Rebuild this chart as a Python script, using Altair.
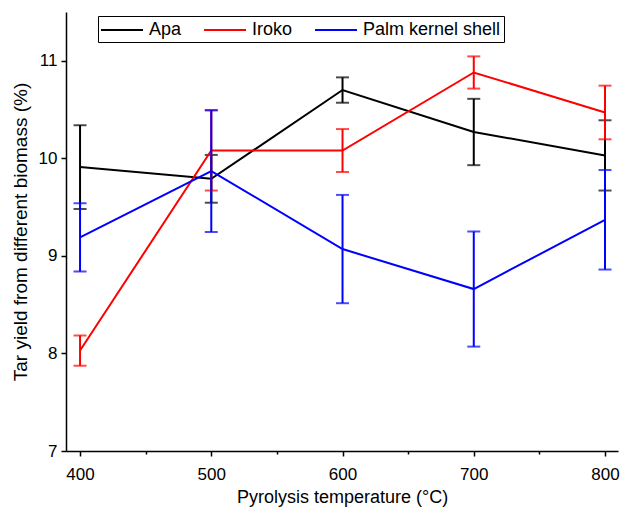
import altair as alt
import pandas as pd

# Pyrolysis temperatures (°C)
temps = [400, 500, 600, 700, 800]

# Tar yield (%) and error half-widths for each biomass
apa = [9.91, 9.79, 10.70, 10.27, 10.03]
apa_err = [0.43, 0.245, 0.13, 0.34, 0.36]
iroko = [8.03, 10.08, 10.08, 10.88, 10.47]
iroko_err = [0.155, 0.41, 0.22, 0.165, 0.275]
pks = [9.19, 9.87, 9.07, 8.66, 9.37]
pks_err = [0.35, 0.625, 0.555, 0.59, 0.51]

series = ["Apa", "Iroko", "Palm kernel shell"]
colors = ["#000000", "#ff0000", "#0000ff"]

x_ticks = [400, 450, 500, 550, 600, 650, 700, 750, 800]
y_ticks = [7, 7.5, 8, 8.5, 9, 9.5, 10, 10.5, 11, 11.5]

rows = []
for order, (name, vals, errs) in enumerate(zip(series, [apa, iroko, pks], [apa_err, iroko_err, pks_err])):
    for t, v, e in zip(temps, vals, errs):
        rows.append({"Biomass": name, "order": order, "T": t, "y": v, "lo": v - e, "hi": v + e})
df = pd.DataFrame(rows)

FONT = "Liberation Sans"

x_scale = alt.Scale(domain=[389.3, 809.9], nice=False, zero=False)
y_scale = alt.Scale(domain=[7, 11.5], nice=False, zero=False)
color_scale = alt.Scale(domain=series, range=colors)

x_axis = alt.Axis(
    values=x_ticks,
    labelExpr="datum.value % 100 === 0 ? datum.label : ''",
    tickSize={"condition": {"test": "datum.value % 100 === 0", "value": 5}, "value": 3},
    title="Pyrolysis temperature (°C)",
    grid=False,
    labelFontSize=17,
    titleFontSize=18,
    labelPadding=10,
    titlePadding=6,
    format="d",
)
y_axis = alt.Axis(
    values=y_ticks,
    labelExpr="datum.value % 1 === 0 ? datum.label : ''",
    tickSize={"condition": {"test": "datum.value % 1 === 0", "value": 5}, "value": 3},
    title="Tar yield from different biomass (%)",
    grid=False,
    labelFontSize=17,
    titleFontSize=19,
    labelPadding=4,
    titlePadding=8,
    format="d",
)

base = alt.Chart(df)

lines = base.mark_line(strokeWidth=2).encode(
    x=alt.X("T:Q", scale=x_scale, axis=x_axis),
    y=alt.Y("y:Q", scale=y_scale, axis=y_axis),
    color=alt.Color(
        "Biomass:N",
        scale=color_scale,
        legend=alt.Legend(
            title=None,
            orient="none",
            legendX=32,
            legendY=4,
            direction="horizontal",
            symbolType="M-2.1,0H2.1",
            symbolSize=400,
            symbolStrokeWidth=2,
            symbolOffset=10,
            labelOffset=16,
            labelFontSize=18,
            labelFont=FONT,
            columnPadding=18,
            padding=3,
            strokeColor="#000000",
            fillColor="#ffffff",
        ),
    ),
    order=alt.Order("order:Q"),
)

bars = base.mark_rule(strokeWidth=2).encode(
    x=alt.X("T:Q", scale=x_scale),
    y=alt.Y("lo:Q", scale=y_scale),
    y2="hi:Q",
    color=alt.Color("Biomass:N", scale=color_scale, legend=None),
)

caps_hi = base.mark_tick(orient="horizontal", size=13, thickness=2).encode(
    x=alt.X("T:Q", scale=x_scale),
    y=alt.Y("hi:Q", scale=y_scale),
    color=alt.Color("Biomass:N", scale=color_scale, legend=None),
)
caps_lo = base.mark_tick(orient="horizontal", size=13, thickness=2).encode(
    x=alt.X("T:Q", scale=x_scale),
    y=alt.Y("lo:Q", scale=y_scale),
    color=alt.Color("Biomass:N", scale=color_scale, legend=None),
)

layers = []
for name in series:
    sel = alt.datum.Biomass == name
    layers += [
        lines.transform_filter(sel),
        bars.transform_filter(sel),
        caps_hi.transform_filter(sel),
        caps_lo.transform_filter(sel),
    ]

chart = (
    alt.layer(*layers)
    .properties(
        width=552,
        height=439,
        autosize=alt.AutoSizeParams(type="none"),
        padding={"left": 66, "top": 12, "right": 4, "bottom": 59},
        background="#ffffff",
    )
    .configure_view(stroke=None)
    .configure_axis(
        domainColor="#000000",
        domainWidth=1.5,
        tickColor="#000000",
        tickWidth=1.5,
        labelColor="#000000",
        titleColor="#000000",
        labelFont=FONT,
        titleFont=FONT,
        titleFontWeight="normal",
    )
)

chart.save("out.html", embed_options={"renderer": "svg", "actions": False})
